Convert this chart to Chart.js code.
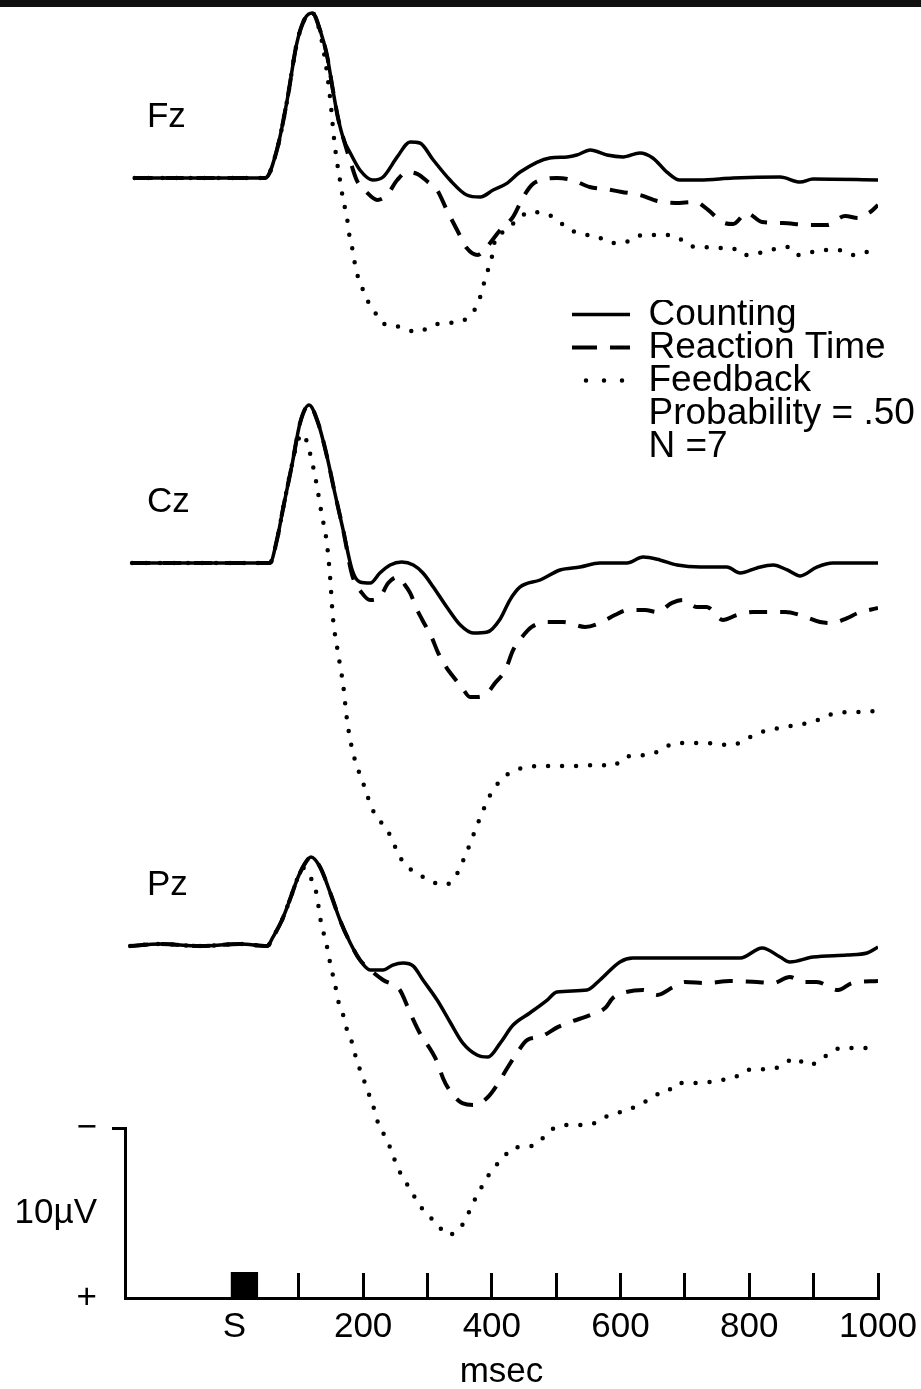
<!DOCTYPE html>
<html>
<head>
<meta charset="utf-8">
<script src="https://cdn.jsdelivr.net/npm/chart.js@4.4.1/dist/chart.umd.min.js"></script>
<style>
  html, body { margin: 0; padding: 0; background: #fff; }
  #wrap { position: relative; width: 921px; height: 1389px; overflow: hidden; }
  #wrap canvas { position: absolute; left: 0; top: 0; }
  #band { position: absolute; left: 0; top: 0; width: 921px; height: 7px; background: #111; }
</style>
</head>
<body>
<div id="wrap"><canvas id="c" width="921" height="1389"></canvas><div id="band"></div></div>
<script>
// ---------------- DATA (time in msec, amplitude in µV; negative drawn upward) ----------------
const conditionNames = ['Counting', 'Reaction Time', 'Feedback'];
const noteLines = ['Probability = .50', 'N =7'];
const panelNames = ['Fz', 'Cz', 'Pz'];

const xTickValues = [0, 100, 200, 300, 400, 500, 600, 700, 800, 900, 1000];
const xTickText   = ['S', '', '200', '', '400', '', '600', '', '800', '', '1000'];
const barTickValues = [-10, -5, 0];
const barTickText   = ['\u2212', '10\u00B5V', '+'];

const stimTimes = [-6, 37];
const stimLevel = [-1.53, -1.53];

// Fz
const fzCountT = [-155,48,66,82,97,110,121,133,144,153,161,170,180,195,215,231,253,273,288,309,335,361,382,402,424,444,490,517,532,553,579,604,630,650,672,692,723,775,848,879,899,1000];
const fzCount  = [0,0,-1.65,-4.59,-7.94,-9.41,-9.71,-8.71,-7.18,-5.18,-3.53,-2.24,-1.47,-0.47,0.12,-0.06,-1.24,-2.12,-2.06,-1.06,0.12,1.0,1.12,0.71,0.3,-0.35,-1.18,-1.24,-1.35,-1.65,-1.35,-1.24,-1.47,-1.18,-0.35,0.12,0.12,0,-0.06,0.24,0.06,0.12];
const fzRtT = [-155,48,66,82,97,110,121,133,144,153,161,170,180,190,205,222,237,253,268,284,301,315,330,346,361,378,392,413,433,448,462,483,501,525,552,576,602,630,657,685,716,736,758,775,796,820,852,891,921,949,969,988,1000];
const fzRt  = [0,0,-1.65,-4.59,-7.94,-9.41,-9.71,-8.71,-7.18,-5.18,-3.53,-2.24,-1.0,0.12,0.82,1.29,1.0,0.12,-0.35,-0.24,0.24,0.71,1.88,3.06,4.12,4.53,4.06,3.06,2.29,1.18,0.41,0.06,0,0.12,0.53,0.65,0.82,1.0,1.35,1.47,1.41,1.88,2.59,2.71,2.06,2.59,2.65,2.76,2.76,2.24,2.35,2.0,1.59];
const fzFbT = [-155,48,66,82,97,110,121,130,141,149,155,159,164,169,175,178,183,187,192,200,208,219,229,246,268,285,309,330,351,366,379,386,394,400,405,417,436,459,478,495,511,529,548,565,584,604,626,646,666,688,708,728,750,773,790,809,832,859,874,898,915,938,960,980,1000];
const fzFb  = [0,0,-1.65,-4.59,-7.94,-9.41,-9.71,-9.0,-6.94,-4.59,-2.24,-1.06,0.12,1.29,2.35,3.24,4.12,5.0,5.82,6.59,7.29,7.94,8.53,8.65,8.94,9.06,8.65,8.53,8.47,8.06,7.35,6.41,5.41,4.65,3.65,3.18,2.59,2.0,2.06,2.29,2.76,3.18,3.35,3.47,3.82,3.82,3.41,3.35,3.35,3.47,4.0,4.06,4.12,4.12,4.53,4.47,4.24,4.06,4.53,4.35,4.24,4.24,4.53,4.35,4.71];

// Cz
const czCountT = [-159,55,66,76,90,102,116,130,144,156,169,183,195,211,226,242,260,278,293,309,330,351,371,393,413,428,444,475,506,537,568,610,635,661,688,724,765,786,812,837,859,879,905,930,1000];
const czCount  = [0,0,-1.35,-3.29,-5.88,-8.24,-9.29,-8.24,-6.24,-4.12,-1.94,0.41,1.12,1.18,0.59,0.12,-0.06,0.12,0.59,1.41,2.59,3.65,4.12,4.06,3.29,2.18,1.41,1.0,0.41,0.24,0,0,-0.35,-0.18,0.12,0.24,0.24,0.59,0.29,0.12,0.41,0.76,0.24,0,0];
const czRtT = [-159,55,66,76,90,102,116,130,144,156,169,183,198,211,226,239,254,265,273,284,292,307,316,330,338,354,366,377,393,405,421,433,447,462,487,511,545,568,591,612,638,657,680,697,719,734,759,781,806,829,856,879,910,929,952,969,1000];
const czRt  = [0,0,-1.35,-3.29,-5.88,-8.24,-9.29,-8.24,-6.24,-4.12,-1.94,0.71,1.76,2.18,2.0,1.18,0.82,1.29,1.76,2.76,3.35,4.41,5.24,6.18,6.59,7.35,7.88,7.88,7.65,7.06,6.29,5.12,4.35,3.76,3.47,3.47,3.76,3.53,3.06,2.76,2.76,2.88,2.35,2.18,2.59,2.59,3.35,3.06,2.88,2.88,2.88,3.06,3.47,3.53,3.24,2.94,2.65];
const czFbT = [-159,55,66,76,90,99,107,113,125,135,144,149,153,161,169,175,184,200,215,239,260,293,327,343,361,379,400,427,447,486,525,565,588,607,649,666,689,731,773,793,814,856,898,936,971,1000];
const czFb  = [0,0,-1.35,-3.29,-5.88,-7.24,-7.59,-7.06,-5.18,-3.0,-1.06,1.0,3.18,5.29,7.18,9.24,11.12,12.94,14.53,15.82,17.47,18.47,18.94,18.47,17.0,15.24,13.47,12.35,12.06,11.94,11.94,11.88,11.94,11.41,11.24,10.88,10.59,10.59,10.71,10.41,10.0,9.65,9.35,8.82,8.76,8.71];

// Pz
const pzCountT = [-162,-116,-53,9,51,60,74,86,99,110,119,133,149,164,180,195,211,231,246,262,278,293,315,335,355,377,394,413,433,459,486,501,548,568,599,619,692,786,820,848,863,899,952,983,1000];
const pzCount  = [0,-0.12,0,-0.12,0,-0.53,-1.53,-2.71,-4.06,-4.88,-5.24,-4.65,-3.12,-1.53,-0.18,0.82,1.41,1.41,1.12,1.0,1.18,2.0,3.18,4.47,5.71,6.41,6.53,5.71,4.65,3.94,3.18,2.71,2.59,2.0,0.94,0.71,0.71,0.71,0.12,0.65,0.94,0.65,0.53,0.41,0.06];
const pzRtT = [-162,-116,-53,9,51,60,74,86,99,110,119,133,149,164,180,195,211,231,257,270,278,288,307,315,324,332,354,374,394,408,424,439,455,475,503,522,553,576,588,604,635,657,682,700,734,770,812,837,863,884,905,938,960,1000];
const pzRt  = [0,-0.12,0,-0.12,0,-0.53,-1.53,-2.71,-4.06,-4.88,-5.24,-4.65,-3.12,-1.53,-0.18,0.82,1.41,2.0,2.59,3.65,4.35,5.12,6.24,6.82,7.76,8.35,9.24,9.35,8.88,8.18,7.18,6.29,5.53,5.35,4.76,4.47,4.06,3.65,3.06,2.76,2.59,2.88,2.41,2.12,2.18,2.06,2.12,2.18,1.82,2.12,2.12,2.59,2.18,2.06];
const pzFbT = [-162,-116,-53,9,51,60,74,86,99,108,118,128,133,144,150,156,161,169,175,183,189,197,205,211,219,225,236,245,254,264,276,285,301,316,332,354,366,377,389,402,416,431,452,472,486,501,522,540,560,576,596,618,635,654,672,688,720,758,778,797,835,852,871,890,907,925,944,1000];
const pzFb  = [0,-0.12,0,-0.12,0,-0.53,-1.53,-2.71,-4.06,-4.59,-4.06,-3.0,-1.71,0.06,1.24,2.18,3.18,4.06,4.94,5.71,6.59,7.47,8.29,8.94,9.82,10.65,11.29,12.18,13.06,13.76,14.47,15.12,15.82,16.41,17.0,16.41,15.53,14.65,13.88,13.06,12.59,11.88,11.82,11.59,11.0,10.65,10.53,10.53,10.41,10.06,9.82,9.53,9.24,8.76,8.59,8.06,8.06,7.88,7.71,7.29,7.24,7.0,6.59,7.0,6.82,6.29,6.0,6.0];

// ---------------- LAYOUT / STYLE ----------------
const SANS = '"Liberation Sans", Arial, sans-serif';
const PX_PER_UV = 17;
const PLOT_H = 1298;
const BAR_PX = 170;
const panelBaselinePx = [178, 563, 946];
const panelAxisIds = ['yFz', 'yCz', 'yPz'];
const lineWidths = [3.5, 4, 4.5];
const lineDashes = [[], [18, 13], [0, 14]];
const lineCaps = ['butt', 'butt', 'round'];
const legendDashes = [[], [29, 13], [0, 18]];

function pts(t, v) { return t.map((x, i) => ({ x: x, y: v[i] })); }
function noPad(s) { s.paddingLeft = 0; s.paddingRight = 0; s.paddingTop = 0; s.paddingBottom = 0; }

const series = [
  [pts(fzCountT, fzCount), pts(fzRtT, fzRt), pts(fzFbT, fzFb)],
  [pts(czCountT, czCount), pts(czRtT, czRt), pts(czFbT, czFb)],
  [pts(pzCountT, pzCount), pts(pzRtT, pzRt), pts(pzFbT, pzFb)]
];

const datasets = [];
series.forEach((panel, p) => {
  panel.forEach((data, c) => {
    datasets.push({
      label: conditionNames[c] + ' ' + panelNames[p],
      data: data,
      yAxisID: panelAxisIds[p],
      borderColor: '#000',
      backgroundColor: '#000',
      borderWidth: lineWidths[c],
      borderDash: lineDashes[c],
      borderCapStyle: lineCaps[c],
      borderJoinStyle: 'round',
      cubicInterpolationMode: 'monotone',
      pointRadius: 0,
      fill: false
    });
  });
});
datasets.push({
  label: 'S',
  data: pts(stimTimes, stimLevel),
  yAxisID: 'yBar',
  borderWidth: 0,
  borderColor: '#000',
  backgroundColor: '#000',
  pointRadius: 0,
  tension: 0,
  fill: 'origin'
});

function panelAxis(baselinePx) {
  const min = -baselinePx / PX_PER_UV;
  return { type: 'linear', position: 'left', display: false, reverse: true, min: min, max: min + PLOT_H / PX_PER_UV, afterFit: noPad };
}

const panelLabels = {
  id: 'panelLabels',
  afterDatasetsDraw(chart) {
    const ctx = chart.ctx;
    const x = chart.scales.x.getPixelForValue(-136);
    ctx.save();
    ctx.font = '35px ' + SANS;
    ctx.fillStyle = '#000';
    ctx.textAlign = 'left';
    ctx.textBaseline = 'middle';
    panelNames.forEach((n, i) => {
      ctx.fillText(n, x, chart.scales[panelAxisIds[i]].getPixelForValue(-3.55));
    });
    ctx.restore();
  }
};

const placeLegend = {
  id: 'placeLegend',
  afterLayout(chart) {
    const lg = chart.legend;
    if (!lg) return;
    lg.left = 572; lg.top = 300;
    lg.right = lg.left + 400; lg.bottom = lg.top + 400;
  }
};

const scales = {
  x: {
    type: 'linear', position: 'bottom', min: -170, max: 1000,
    afterBuildTicks: s => { s.ticks = xTickValues.map(v => ({ value: v })); },
    afterFit: s => { s.height = 91; noPad(s); },
    ticks: {
      callback: (v, i) => xTickText[i],
      font: { family: SANS, size: 35, lineHeight: 1 },
      color: '#000', padding: 37, maxRotation: 0, minRotation: 0, autoSkip: false
    },
    grid: {
      drawOnChartArea: false, drawTicks: true, tickLength: -25, lineWidth: 3,
      color: c => (c.tick && c.tick.value === 0) ? 'rgba(0,0,0,0)' : '#000'
    },
    border: { display: true, color: '#000', width: 3 },
    title: { display: true, text: 'msec', color: '#000', font: { family: SANS, size: 35, lineHeight: 1 }, padding: { top: 0, bottom: -1 } }
  },
  yBar: {
    type: 'linear', position: 'left', stack: 'bar', stackWeight: BAR_PX, weight: 1,
    reverse: true, min: -10, max: 0,
    afterBuildTicks: s => { s.ticks = barTickValues.map(v => ({ value: v })); },
    afterFit: s => { s.width = 125; noPad(s); },
    ticks: { callback: (v, i) => barTickText[i], font: { family: SANS, size: 35 }, color: '#000', padding: 15, autoSkip: false },
    grid: {
      drawOnChartArea: false, tickLength: 13, lineWidth: 3,
      color: c => (c.tick && c.tick.value === -10) ? '#000' : 'rgba(0,0,0,0)'
    },
    border: { display: true, color: '#000', width: 3 }
  },
  yGap: {
    type: 'linear', position: 'left', stack: 'bar', stackWeight: PLOT_H - BAR_PX, weight: 2,
    min: 0, max: 1,
    afterFit: s => { s.width = 0; noPad(s); },
    ticks: { display: false }, grid: { display: false }, border: { display: false }
  }
};
panelAxisIds.forEach((id, i) => { scales[id] = panelAxis(panelBaselinePx[i]); });

new Chart(document.getElementById('c'), {
  type: 'line',
  data: { datasets: datasets },
  options: {
    responsive: false,
    animation: false,
    devicePixelRatio: 1,
    events: [],
    layout: { autoPadding: false, padding: { left: 0, right: 43, top: 0, bottom: 0 } },
    scales: scales,
    plugins: {
      tooltip: { enabled: false },
      title: { display: false },
      legend: {
        display: true,
        position: 'chartArea',
        align: 'start',
        labels: {
          usePointStyle: true,
          pointStyleWidth: 62,
          boxHeight: 4,
          padding: -4,
          color: '#000',
          font: { family: SANS, size: 37 },
          generateLabels: () => conditionNames.map((name, i) => ({
            text: name, fontColor: '#000', strokeStyle: '#000', fillStyle: 'rgba(0,0,0,0)',
            lineWidth: lineWidths[i], lineDash: legendDashes[i], lineCap: lineCaps[i],
            pointStyle: 'line', hidden: false, datasetIndex: i
          })).concat(noteLines.map(t => ({
            text: t, fontColor: '#000', strokeStyle: 'rgba(0,0,0,0)', fillStyle: 'rgba(0,0,0,0)',
            lineWidth: 0, pointStyle: 'line', hidden: false
          })))
        }
      }
    }
  },
  plugins: [panelLabels, placeLegend]
});
</script>
</body>
</html>
